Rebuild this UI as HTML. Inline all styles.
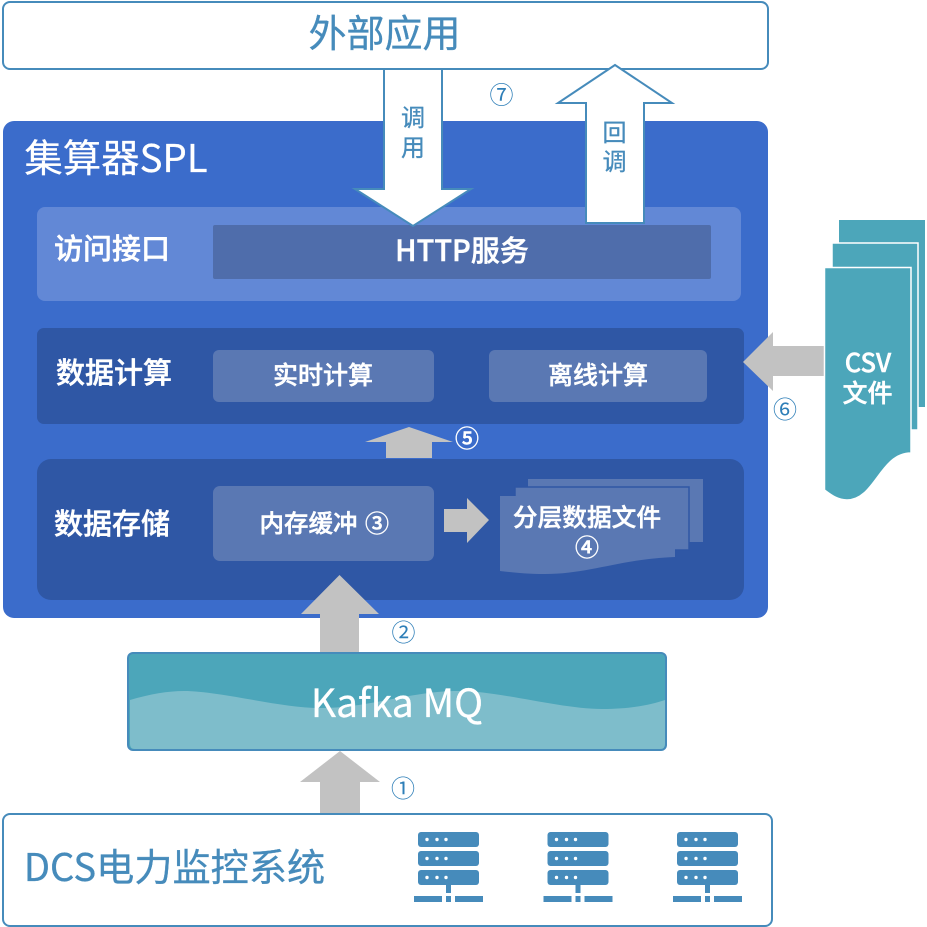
<!DOCTYPE html>
<html><head><meta charset="utf-8"><style>
html,body{margin:0;padding:0;background:#fff;width:927px;height:927px;overflow:hidden}
svg{display:block}
text{font-family:"Noto Sans CJK SC","Liberation Sans",sans-serif;text-anchor:middle;dominant-baseline:auto}
.w{fill:#fff;font-weight:500;stroke:#fff;stroke-width:.45px}
.t{fill:#fff;stroke:#fff;stroke-width:.25px}
.b{fill:#468bbb;font-weight:400;stroke:#468bbb;stroke-width:.3px}
.n{fill:#2f7fb8;font-size:24px}
.g{fill:#c2c2c2}
</style></head><body>
<svg width="927" height="927" viewBox="0 0 927 927" xmlns="http://www.w3.org/2000/svg">
<rect x="3" y="2" width="765" height="67" rx="7" fill="#fff" stroke="#468bbb" stroke-width="2"/>
<text class="b" x="384.5" y="47" font-size="38">外部应用</text>

<rect x="3" y="121" width="765" height="497" rx="11" fill="#3b6ccb"/>
<text class="t" x="116" y="172" font-size="38.4">集算器SPL</text>

<rect x="37" y="207" width="704" height="94" rx="8" fill="#6288d6"/>
<rect x="213" y="225" width="498" height="54" rx="2" fill="#4f6dab"/>
<text class="w" x="112" y="259" font-size="29">访问接口</text>
<text class="w" x="462" y="261" font-size="29">HTTP服务</text>

<rect x="37" y="328" width="707" height="96" rx="7" fill="#2f57a5"/>
<rect x="213" y="350" width="221" height="52" rx="6" fill="#5a78b3"/>
<rect x="489" y="350" width="218" height="52" rx="6" fill="#5a78b3"/>
<text class="w" x="114" y="383" font-size="29">数据计算</text>
<text class="w" x="323" y="384" font-size="25">实时计算</text>
<text class="w" x="598" y="384" font-size="25">离线计算</text>

<rect x="37" y="459" width="707" height="141" rx="14" fill="#2f57a5"/>
<rect x="213" y="486" width="221" height="75" rx="7" fill="#5a78b3"/>
<text class="w" x="112" y="534" font-size="29">数据存储</text>
<text class="w" x="308.5" y="532" font-size="24.5">内存缓冲</text>
<text class="w" x="377" y="532" font-size="24">③</text>

<rect x="528" y="479" width="175" height="63" fill="#5a78b3"/>
<rect x="515" y="487" width="174" height="63" fill="#5a78b3" stroke="#2f57a5" stroke-width="1.5"/>
<path d="M500 496H675V557C620 559 590 574 545 574C525 574 510 572 500 571Z" fill="#5a78b3"/>
<text class="w" x="587" y="526" font-size="24.7">分层数据文件</text>
<text class="w" x="587" y="556" font-size="24">④</text>

<polygon class="g" points="444,509 467,509 467,498 489,520 467,543 467,532 444,532"/>
<polygon class="g" points="409,427 453,442 432,442 432,458 386,458 386,442 365,442"/>
<text class="w" x="467" y="447" font-size="24">⑤</text>

<polygon class="g" points="339.5,575 379,614 359,614 359,653 320,653 320,614 301,614"/>
<text class="n" x="403.5" y="641">②</text>

<polygon points="384,69 442,69 442,189 471,189 413,226 355,189 384,189" fill="#fff" stroke="#468bbb" stroke-width="2"/>
<polygon points="615,65 672,103 644,103 644,223 586,223 586,103 558,103" fill="#fff" stroke="#468bbb" stroke-width="2"/>
<text class="b" x="413" y="126" font-size="24">调</text>
<text class="b" x="413" y="156" font-size="24">用</text>
<text class="b" x="614.5" y="141" font-size="24">回</text>
<text class="b" x="614.5" y="170" font-size="24">调</text>
<text class="n" x="501.5" y="103.5">⑦</text>

<rect x="839" y="220" width="86" height="187" fill="#4ca6ba"/>
<rect x="832" y="243" width="86" height="187" fill="#4ca6ba" stroke="#fff" stroke-width="1.5"/>
<polygon class="g" points="743,362 773,332 773,346 826,346 826,376 773,376 773,391"/>
<path d="M824.5 267.5H911V453C880 453 875 500 847 500C837 500 830 494 824.5 490Z" fill="#4ca6ba" stroke="#fff" stroke-width="1.5"/>
<text class="w" x="868" y="372" font-size="25.5">CSV</text>
<text class="w" x="867.5" y="402" font-size="25">文件</text>
<text class="n" x="785" y="418">⑥</text>

<rect x="128" y="653" width="538" height="97" rx="5" fill="#4ca6ba" stroke="#468bbb" stroke-width="2"/>
<path d="M130 700C150 694 168 691 184 691C220 691 280 708 320 708C370 708 410 691 459 691C500 691 560 709 602 709C630 709 650 705 665 700V744Q665 749 660 749H135Q130 749 130 744Z" fill="#7ebdcb"/>
<text class="t" x="397" y="717" font-size="39">Kafka MQ</text>

<polygon class="g" points="340,751 380,782 360,782 360,814 320,814 320,782 300,782"/>
<text class="n" x="403" y="797">①</text>

<rect x="3" y="814" width="769" height="112" rx="7" fill="#fff" stroke="#468bbb" stroke-width="2"/>
<text class="b" x="174.5" y="881" font-size="38.2">DCS电力监控系统</text>

<defs><g id="srv" fill="#468bbb">
<rect x="4" y="0" width="61" height="15" rx="3"/>
<rect x="4" y="19" width="61" height="15" rx="3"/>
<rect x="4" y="38" width="61" height="15" rx="3"/>
<rect x="32" y="53" width="5" height="8"/>
<rect x="0" y="64" width="28" height="6"/>
<rect x="32" y="64" width="5" height="6"/>
<rect x="41" y="64" width="28" height="6"/>
<g fill="#fff">
<circle cx="13" cy="7.5" r="1.7"/><circle cx="23" cy="7.5" r="1.7"/><circle cx="32" cy="7.5" r="1.7"/>
<circle cx="13" cy="26.5" r="1.7"/><circle cx="23" cy="26.5" r="1.7"/><circle cx="32" cy="26.5" r="1.7"/>
<circle cx="13" cy="45.5" r="1.7"/><circle cx="23" cy="45.5" r="1.7"/><circle cx="32" cy="45.5" r="1.7"/>
</g></g></defs>
<use href="#srv" x="414" y="832"/>
<use href="#srv" x="543.5" y="832"/>
<use href="#srv" x="673" y="832"/>
</svg>
</body></html>
